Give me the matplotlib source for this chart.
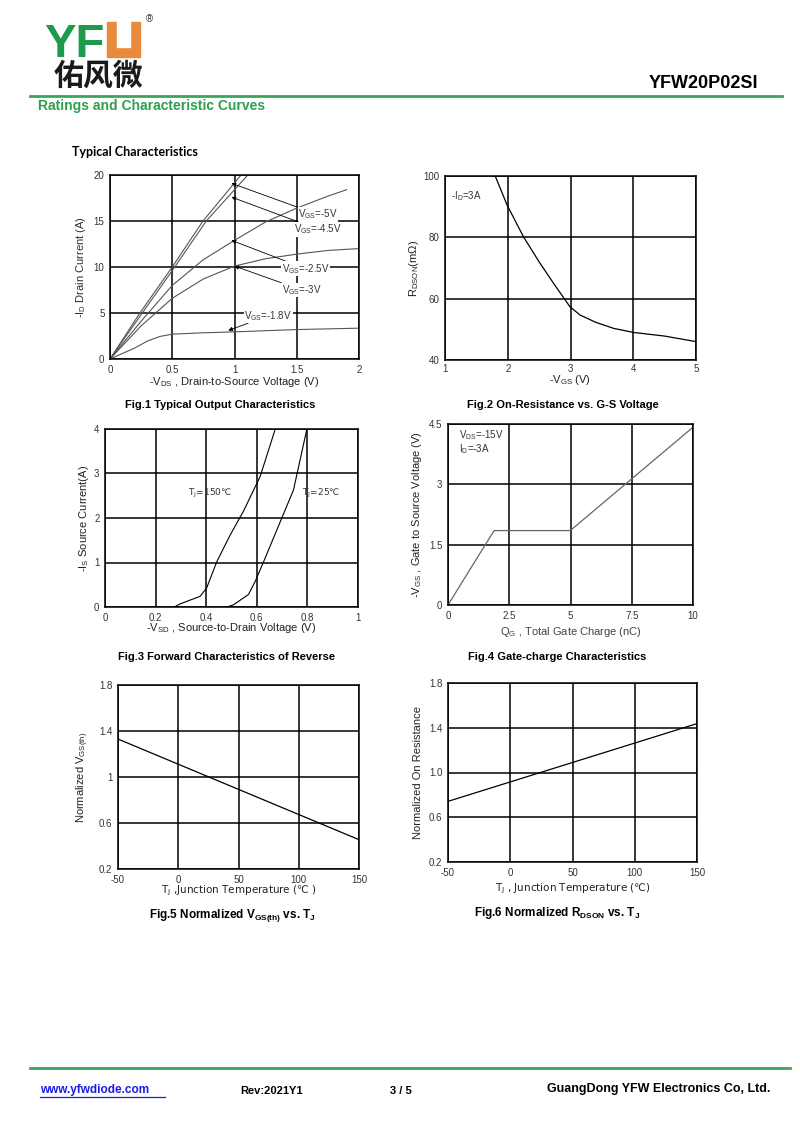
import matplotlib
matplotlib.use('Agg')
import matplotlib.pyplot as plt
from matplotlib.patches import Rectangle

plt.rcParams['font.family'] = ['Liberation Sans', 'DejaVu Sans']
plt.rcParams['mathtext.default'] = 'regular'
plt.rcParams['axes.unicode_minus'] = False

W, H = 800, 1130

# Fig.1 typical output characteristics (-VDS in V, -ID in A)
vds_5v = [0, 0.24, 0.5, 0.747, 1.053]
id_5v = [0, 5, 10, 15, 20]
vds_45v = [0, 0.259, 0.52, 0.773, 1.107]
id_45v = [0, 5, 10, 15, 20]
vds_25v = [0, 0.25, 0.5, 0.75, 1.0, 1.25, 1.5, 1.75, 1.9]
id_25v = [0, 4.1, 8.0, 10.8, 12.9, 14.9, 16.4, 17.7, 18.4]
vds_3v = [0, 0.25, 0.5, 0.75, 1.0, 1.25, 1.5, 1.75, 2.0]
id_3v = [0, 3.6, 6.6, 8.7, 10.1, 10.9, 11.4, 11.8, 12.0]
vds_18v = [0, 0.1, 0.2, 0.3, 0.4, 0.5, 0.75, 1.0, 1.5, 2.0]
id_18v = [0, 0.6, 1.2, 1.95, 2.45, 2.7, 2.85, 2.95, 3.2, 3.35]

# Fig.2 on-resistance vs gate voltage
vgs_r = [1.8, 1.99, 2.25, 2.5, 2.73, 2.99, 3.15, 3.4, 3.69, 4.0, 4.5, 5.0]
rdson = [100, 90.5, 80.2, 72.0, 65.0, 57.4, 54.7, 52.3, 50.3, 49.0, 47.8, 46.0]

# Fig.3 forward characteristics of reverse diode
vsd_150 = [0.274, 0.297, 0.376, 0.402, 0.442, 0.495, 0.547, 0.613, 0.673]
is_150 = [0, 0.07, 0.24, 0.43, 1.02, 1.62, 2.15, 2.93, 4.0]
vsd_25 = [0.482, 0.508, 0.567, 0.594, 0.633, 0.693, 0.745, 0.798]
is_25 = [0, 0.05, 0.28, 0.58, 1.1, 1.92, 2.63, 4.0]

# Fig.4 gate charge
qg = [0, 1.88, 4.99, 10]
vgs_q = [0, 1.85, 1.85, 4.42]

# Fig.5 / Fig.6 normalized vs junction temperature
tj = [-50, 150]
vth_norm = [1.33, 0.455]
ron_norm = [0.742, 1.437]

fig = plt.figure(figsize=(8, 11.3), dpi=100)
fig.patch.set_facecolor('white')


def fx(x):
    return x / W


def fy(y):
    return 1 - y / H


def make_ax(x0, y0, x1, y1):
    ax = fig.add_axes([fx(x0), fy(y1), (x1 - x0) / W, (y1 - y0) / H])
    for s in ax.spines.values():
        s.set_linewidth(1.1)
        s.set_color('black')
    ax.grid(True, color='black', linewidth=1.1)
    ax.set_axisbelow(True)
    ax.tick_params(length=0, labelsize=7, pad=4, colors='#333333')
    return ax


def page_text(x, y, s, **kw):
    fig.text(fx(x), fy(y), s, **kw)


# header
green = '#1e9a4b'
orange = '#e8893c'
page_text(44, 57, 'YF', fontsize=34, fontweight='bold', color=green, va='baseline')
fig.add_artist(Rectangle((fx(107), fy(57)), 33 / W, 35 / H, color=orange, transform=fig.transFigure))
fig.add_artist(Rectangle((fx(117), fy(47)), 13 / W, 26 / H, color='white', transform=fig.transFigure))
page_text(146, 19, '®', fontsize=7, color='#333333', va='center')
page_text(54, 76, '佑风微', fontsize=21.5, fontweight='bold', family=['Noto Sans CJK SC'], va='center', color='#1a1a1a')
fig.add_artist(plt.Line2D([fx(30), fx(782)], [fy(95.5), fy(95.5)], color='#3aa55a', lw=2, transform=fig.transFigure))
page_text(758, 83, 'YFW20P02SI', fontsize=13, fontweight='bold', ha='right', va='center')
page_text(38, 106, 'Ratings and Characteristic Curves', fontsize=10, fontweight='bold', color='#2e9e4f', va='center')
page_text(72, 152, 'Typical Characteristics', fontsize=9, fontweight='bold', family=['Lato'], va='center')

# Fig.1
ax1 = make_ax(110, 175, 359, 359)
for xs, ys in [(vds_5v, id_5v), (vds_45v, id_45v), (vds_25v, id_25v), (vds_3v, id_3v), (vds_18v, id_18v)]:
    ax1.plot(xs, ys, color='#555555', lw=0.8)
ax1.set_xlim(0, 2)
ax1.set_ylim(0, 20)
ax1.set_xticks([0, 0.5, 1, 1.5, 2])
ax1.set_xticklabels(['0', '0.5', '1', '1.5', '2'])
ax1.set_yticks([0, 5, 10, 15, 20])
ax1.set_xlabel('-V$_{DS}$ , Drain-to-Source Voltage (V)', fontsize=8, labelpad=0, color='#222222')
ax1.set_ylabel('-I$_D$ Drain Current (A)', fontsize=8, labelpad=4, color='#3a2a2a')
arrow = dict(arrowstyle='-|>', color='black', lw=0.6, mutation_scale=6, shrinkA=0, shrinkB=0)
labels1 = [('V$_{GS}$=-5V', (1.51, 15.7), (0.976, 19.1)),
           ('V$_{GS}$=-4.5V', (1.48, 14.1), (0.976, 17.6)),
           ('V$_{GS}$=-2.5V', (1.38, 9.8), (0.976, 12.9)),
           ('V$_{GS}$=-3V', (1.38, 7.5), (1.0, 10.1)),
           ('V$_{GS}$=-1.8V', (1.08, 4.7), (0.95, 3.1))]
for s, xyt, xy in labels1:
    ax1.annotate(s, xy=xy, xytext=xyt, fontsize=7, ha='left', va='center',
                 color='#333333', arrowprops=arrow,
                 bbox=dict(boxstyle='square,pad=0.05', fc='white', ec='none'))
page_text(220, 405, 'Fig.1 Typical Output Characteristics', fontsize=8, fontweight='bold', ha='center', va='center')

# Fig.2
ax2 = make_ax(445, 176, 696, 360)
ax2.plot(vgs_r, rdson, color='black', lw=0.9)
ax2.set_xlim(1, 5)
ax2.set_ylim(40, 100)
ax2.set_xticks([1, 2, 3, 4, 5])
ax2.set_yticks([40, 60, 80, 100])
ax2.tick_params(axis='x', pad=3)
ax2.set_xlabel('-V$_{GS}$ (V)', fontsize=8, labelpad=-1, color='#222222')
ax2.set_ylabel('R$_{DSON}$(mΩ)', fontsize=8, labelpad=2, color='#222222')
ax2.text(1.1, 93.5, '-I$_D$=3A', fontsize=7, color='#333333', va='center')
page_text(563, 405, 'Fig.2 On-Resistance vs. G-S Voltage', fontsize=8, fontweight='bold', ha='center', va='center')

# Fig.3
ax3 = make_ax(105, 429, 358, 607)
ax3.plot(vsd_150, is_150, color='black', lw=0.8)
ax3.plot(vsd_25, is_25, color='black', lw=0.8)
ax3.set_xlim(0, 1)
ax3.set_ylim(0, 4)
ax3.set_xticks([0, 0.2, 0.4, 0.6, 0.8, 1])
ax3.set_xticklabels(['0', '0.2', '0.4', '0.6', '0.8', '1'])
ax3.set_yticks([0, 1, 2, 3, 4])
ax3.set_xlabel('-V$_{SD}$ , Source-to-Drain Voltage (V)', fontsize=8, labelpad=-1, color='#222222')
ax3.set_ylabel('-I$_S$ Source Current(A)', fontsize=8, labelpad=2, color='#222222')
ax3.text(0.33, 2.56, 'T$_J$=150℃', fontsize=6.5, va='center', color='#333333', family='DejaVu Sans')
ax3.text(0.778, 2.56, 'T$_J$=25℃', fontsize=6.5, va='center', color='#333333', family='DejaVu Sans')
page_text(227, 657, 'Fig.3 Forward Characteristics of Reverse', fontsize=8, fontweight='bold', ha='center', va='center')

# Fig.4
ax4 = make_ax(448, 424, 693, 605)
ax4.plot(qg, vgs_q, color='#666666', lw=0.9)
ax4.set_xlim(0, 10)
ax4.set_ylim(0, 4.5)
ax4.set_xticks([0, 2.5, 5, 7.5, 10])
ax4.set_xticklabels(['0', '2.5', '5', '7.5', '10'])
ax4.set_yticks([0, 1.5, 3, 4.5])
ax4.set_yticklabels(['0', '1.5', '3', '4.5'])
ax4.set_xlabel('Q$_G$ , Total Gate Charge (nC)', fontsize=8, labelpad=3, color='#444444')
ax4.set_ylabel('-V$_{GS}$ , Gate to Source Voltage (V)', fontsize=8, labelpad=4, color='#222222')
ax4.text(0.45, 4.05, 'V$_{DS}$=-15V\nI$_D$=-3A', fontsize=7, va='center', color='#333333', linespacing=1.0)
page_text(557, 657, 'Fig.4 Gate-charge Characteristics', fontsize=8, fontweight='bold', ha='center', va='center')

# Fig.5
ax5 = make_ax(118, 685, 359, 869)
ax5.plot(tj, vth_norm, color='black', lw=0.9)
ax5.set_xlim(-50, 150)
ax5.set_ylim(0.2, 1.8)
ax5.set_xticks([-50, 0, 50, 100, 150])
ax5.set_yticks([0.2, 0.6, 1.0, 1.4, 1.8])
ax5.set_yticklabels(['0.2', '0.6', '1', '1.4', '1.8'])
ax5.set_xlabel('T$_J$ ,Junction Temperature (℃ )', fontsize=7.5, labelpad=-1, color='#222222', family='DejaVu Sans')
ax5.set_ylabel('Normalized V$_{GS(th)}$', fontsize=8, labelpad=6, color='#222222')
page_text(232, 915, 'Fig.5 Normalized V$_{GS(th)}$ vs. T$_J$', fontsize=8.5, fontweight='bold', ha='center', va='center')

# Fig.6
ax6 = make_ax(448, 683, 697, 862)
ax6.plot(tj, ron_norm, color='black', lw=0.9)
ax6.set_xlim(-50, 150)
ax6.set_ylim(0.2, 1.8)
ax6.set_xticks([-50, 0, 50, 100, 150])
ax6.set_yticks([0.2, 0.6, 1.0, 1.4, 1.8])
ax6.set_yticklabels(['0.2', '0.6', '1.0', '1.4', '1.8'])
ax6.set_xlabel('T$_J$ , Junction Temperature (℃)', fontsize=7.5, labelpad=3, color='#222222', family='DejaVu Sans')
ax6.set_ylabel('Normalized On Resistance', fontsize=8, labelpad=4, color='#222222')
page_text(557, 913, 'Fig.6 Normalized R$_{DSON}$ vs. T$_J$', fontsize=8.5, fontweight='bold', ha='center', va='center')

# footer
fig.add_artist(plt.Line2D([fx(30), fx(790)], [fy(1068), fy(1068)], color='#3aa55a', lw=2, transform=fig.transFigure))
page_text(40, 1090, 'www.yfwdiode.com', fontsize=8.5, fontweight='bold', color='#1a1aee', va='center')
fig.add_artist(plt.Line2D([fx(40), fx(165)], [fy(1097), fy(1097)], color='#1a1aee', lw=0.9, transform=fig.transFigure))
page_text(240, 1091, 'Rev:2021Y1', fontsize=8, fontweight='bold', va='center')
page_text(390, 1091, '3 / 5', fontsize=8, fontweight='bold', va='center')
page_text(770, 1089, 'GuangDong YFW Electronics Co, Ltd.', fontsize=9, fontweight='bold', ha='right', va='center')

fig.savefig('out.png', dpi=100)
